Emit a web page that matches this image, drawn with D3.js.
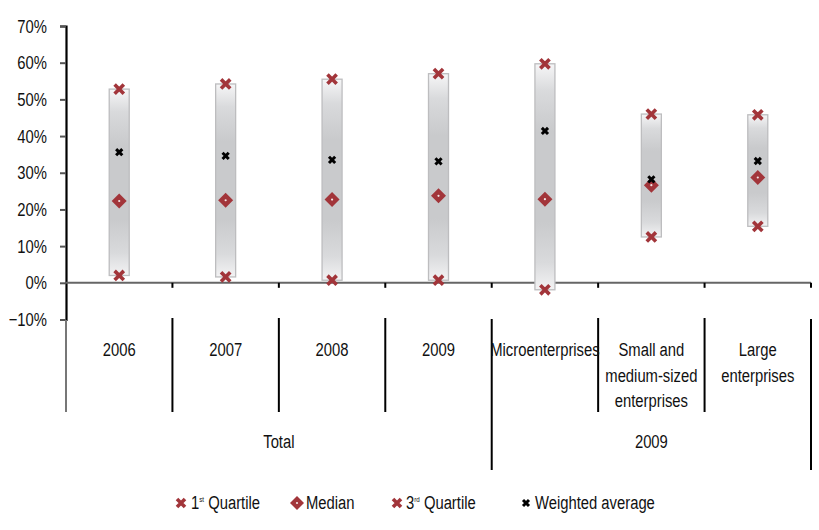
<!DOCTYPE html>
<html>
<head>
<meta charset="utf-8">
<script src="https://cdn.jsdelivr.net/npm/d3@7/dist/d3.min.js"></script>
<style>
  html, body { margin: 0; padding: 0; background: #fff; }
  svg { display: block; }
  text { font-family: "Liberation Sans", Arial, sans-serif; fill: #111; }
</style>
</head>
<body>
<svg id="chart" width="819" height="530"></svg>
<script>
// Categories and their two-level grouping
const categories = ["2006", "2007", "2008", "2009", "Microenterprises", "Small and medium-sized enterprises", "Large enterprises"];
const categoryLines = [["2006"], ["2007"], ["2008"], ["2009"], ["Microenterprises"], ["Small and", "medium-sized", "enterprises"], ["Large", "enterprises"]];
const groups = [{ label: "Total", from: 0, to: 3 }, { label: "2009", from: 4, to: 6 }];

// Series values (shares)
const q1       = [0.020, 0.016, 0.007, 0.007, -0.019, 0.125, 0.154];
const median   = [0.223, 0.225, 0.227, 0.237, 0.228, 0.266, 0.287];
const q3       = [0.528, 0.542, 0.555, 0.570, 0.597, 0.460, 0.458];
const weighted = [0.356, 0.346, 0.335, 0.331, 0.414, 0.282, 0.332];

const yTicks = [-0.1, 0, 0.1, 0.2, 0.3, 0.4, 0.5, 0.6, 0.7];

const svg = d3.select("#chart");
const red = "#a2353a";
const SX = 0.78;       // horizontal squeeze giving a condensed face
const FS = "19px";

const x = d3.scaleBand().domain(categories).range([66, 811]).padding(0);
const y = d3.scaleLinear().domain([-0.1, 0.7]).range([319.5, 26]);

// Condensed text placed at (px, py)
function label(parent, px, py, str, anchor, size) {
  const g = parent.append("g").attr("transform", `translate(${px},${py}) scale(${SX},1)`);
  const t = g.append("text").attr("text-anchor", anchor || "start").style("font-size", size || FS);
  if (str !== null) t.text(str);
  return t;
}

// Gradient used by the range boxes
const defs = svg.append("defs");
const grad = defs.append("linearGradient").attr("id", "boxGrad")
  .attr("x1", 0).attr("y1", 0).attr("x2", 0).attr("y2", 1);
[[0, "#f6f6f7"], [0.12, "#d9dadc"], [0.3, "#c9cacc"], [0.7, "#c9cacc"], [0.88, "#d9dadc"], [1, "#f3f3f4"]]
  .forEach(([o, c]) => grad.append("stop").attr("offset", o).attr("stop-color", c));

// Y axis
const yAxis = svg.append("g").attr("transform", "translate(66,0)")
  .call(d3.axisLeft(y).tickValues(yTicks).tickFormat(d3.format(".0%")).tickSize(6));
yAxis.select(".domain").attr("stroke", "#000").attr("stroke-width", 2.2);
yAxis.selectAll(".tick line").attr("stroke", "#555").attr("stroke-width", 2);
yAxis.selectAll(".tick text").style("font-size", FS).attr("fill", "#111")
  .attr("x", -19 / SX).attr("transform", `scale(${SX},1)`);

// Zero line with small ticks at category boundaries
svg.append("line").attr("x1", 66).attr("x2", 811).attr("y1", y(0)).attr("y2", y(0))
  .attr("stroke", "#666").attr("stroke-width", 2);
categories.forEach(c => {
  const bx = x(c) + x.bandwidth();
  svg.append("line").attr("x1", bx).attr("x2", bx).attr("y1", y(0)).attr("y2", y(0) + 5)
    .attr("stroke", "#000").attr("stroke-width", 2);
});

// Category separators
const groupEnds = new Set(groups.map(g => g.to));
svg.append("line").attr("x1", 66).attr("x2", 66).attr("y1", 320).attr("y2", 412)
  .attr("stroke", "#777").attr("stroke-width", 2);
categories.forEach((c, i) => {
  const bx = x(c) + x.bandwidth();
  const long = groupEnds.has(i);
  svg.append("line").attr("x1", bx).attr("x2", bx)
    .attr("y1", long ? 319 : 318).attr("y2", long ? 470 : 412)
    .attr("stroke", "#000").attr("stroke-width", 2);
});

// Category labels
categories.forEach((c, i) => {
  const cx = x(c) + x.bandwidth() / 2;
  categoryLines[i].forEach((line, k) => label(svg, cx, 356 + k * 25.5, line, "middle"));
});

// Group labels
groups.forEach(g => {
  const x0 = g.from === 0 ? 66 : x(categories[g.from]);
  const x1 = x(categories[g.to]) + x.bandwidth();
  label(svg, (x0 + x1) / 2, 448, g.label, "middle");
});

// Range boxes from first to third quartile
const bw = 20;
categories.forEach((c, i) => {
  const cx = x(c) + x.bandwidth() / 2;
  svg.append("rect").attr("x", cx - bw / 2).attr("width", bw)
    .attr("y", y(q3[i])).attr("height", y(q1[i]) - y(q3[i]))
    .attr("fill", "url(#boxGrad)").attr("stroke", "#bdbdbf").attr("stroke-width", 1.3);
});

// Marker drawers
function redCross(g, cx, cy, s) {
  const p = `M${cx - s},${cy - s}L${cx + s},${cy + s}M${cx - s},${cy + s}L${cx + s},${cy - s}`;
  g.append("path").attr("d", p).attr("stroke", red).attr("stroke-width", 3.6).attr("fill", "none");
}
function blackCross(g, cx, cy, s) {
  const p = `M${cx - s},${cy - s}L${cx + s},${cy + s}M${cx - s},${cy + s}L${cx + s},${cy - s}`;
  g.append("path").attr("d", p).attr("stroke", "#000").attr("stroke-width", 3).attr("fill", "none");
}
function diamond(g, cx, cy, r) {
  g.append("path").attr("d", `M${cx},${cy - r}L${cx + r},${cy}L${cx},${cy + r}L${cx - r},${cy}Z`)
    .attr("fill", red);
  g.append("circle").attr("cx", cx).attr("cy", cy).attr("r", 1.1).attr("fill", "#f3e6e6");
}

const marks = svg.append("g");
categories.forEach((c, i) => {
  const cx = x(c) + x.bandwidth() / 2;
  redCross(marks, cx, y(q1[i]), 4.6);
  redCross(marks, cx, y(q3[i]), 4.6);
  diamond(marks, cx, y(median[i]), 7.5);
  blackCross(marks, cx, y(weighted[i]), 3.1);
});

// Legend
const lg = svg.append("g");
const ly = 503;
redCross(lg, 181, ly, 4);
const t1 = label(lg, 191, ly + 6, null);
t1.append("tspan").text("1");
t1.append("tspan").attr("dy", -7).style("font-size", "8px").text("st");
t1.append("tspan").attr("dy", 7).text(" Quartile");

diamond(lg, 297, ly, 7);
label(lg, 306, ly + 6, "Median");

redCross(lg, 397, ly, 4);
const t3 = label(lg, 406, ly + 6, null);
t3.append("tspan").text("3");
t3.append("tspan").attr("dy", -7).style("font-size", "8px").text("rd");
t3.append("tspan").attr("dy", 7).text(" Quartile");

blackCross(lg, 526, ly, 3);
label(lg, 535, ly + 6, "Weighted average");
</script>
</body>
</html>
